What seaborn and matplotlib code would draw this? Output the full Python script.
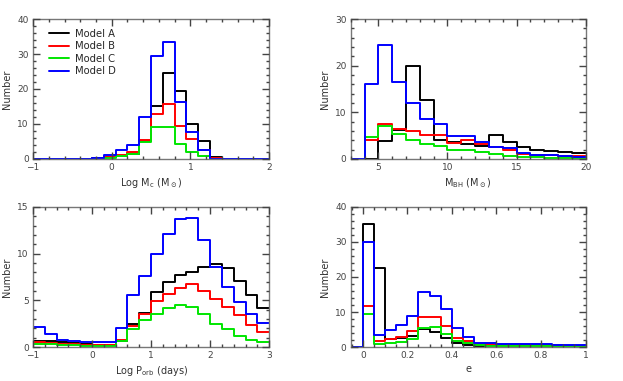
import numpy as np
import pandas as pd
import matplotlib
matplotlib.use("Agg")
import matplotlib.pyplot as plt
from matplotlib.ticker import MultipleLocator, FuncFormatter
import seaborn as sns

sns.set_style("ticks")
plt.rcParams['font.family'] = ['DejaVu Sans']

models = ["Model A", "Model B", "Model C", "Model D"]
colors = ["black", "red", "#00e600", "blue"]

# Log Mc, bins of 0.15 from -1 to 2
mc_edges = np.round(np.linspace(-1, 2, 21), 3)
mc_A = [0, 0, 0, 0, 0, 0.3, 0.5, 0.8, 1.3, 5.2, 15.0, 24.5, 19.5, 10.1, 5.2, 0.6, 0, 0, 0, 0]
mc_B = [0, 0, 0, 0, 0, 0, 0.5, 1.2, 2.0, 5.5, 12.7, 15.7, 9.5, 5.8, 2.6, 0.2, 0, 0, 0, 0]
mc_C = [0, 0, 0, 0, 0, 0, 0.3, 0.8, 1.5, 4.8, 9.2, 9.2, 4.3, 2.1, 0.7, 0, 0, 0, 0, 0]
mc_D = [0, 0, 0, 0, 0, 0.2, 1.0, 2.6, 4.1, 11.9, 29.5, 33.4, 16.4, 7.8, 2.6, 0, 0, 0, 0, 0]

# M_BH, bins of 1 from 3 to 20
bh_edges = np.arange(3, 21, 1).astype(float)
bh_A = [0, 0, 3.9, 6.3, 20.0, 12.7, 4.1, 3.6, 3.2, 2.8, 5.2, 3.6, 2.6, 2.0, 1.6, 1.5, 1.2]
bh_B = [0, 4.1, 7.4, 6.5, 6.0, 5.2, 5.1, 3.4, 4.0, 3.2, 2.5, 1.8, 1.0, 0.8, 0.8, 0.7, 0.6]
bh_C = [0, 4.7, 7.0, 5.3, 4.0, 3.1, 2.7, 1.8, 1.9, 1.5, 1.0, 0.6, 0.3, 0.3, 0.2, 0.2, 0.2]
bh_D = [0, 16.0, 24.5, 16.6, 11.9, 8.6, 7.5, 4.9, 5.0, 3.6, 2.6, 2.3, 1.2, 0.9, 0.8, 0.6, 0.5]

# Log Porb, bins of 0.2 from -1 to 3
po_edges = np.round(np.linspace(-1, 3, 21), 3)
po_A = [0.6, 0.6, 0.5, 0.4, 0.3, 0.25, 0.2, 0.6, 2.5, 3.6, 5.9, 7.0, 7.7, 8.0, 8.6, 8.9, 8.5, 7.1, 5.6, 4.2]
po_B = [0.5, 0.45, 0.35, 0.3, 0.25, 0.2, 0.2, 0.8, 2.3, 3.5, 4.9, 5.7, 6.3, 6.7, 6.0, 5.1, 4.3, 3.4, 2.4, 1.6]
po_C = [0.35, 0.3, 0.25, 0.2, 0.15, 0.1, 0.1, 0.65, 1.9, 2.9, 3.5, 4.2, 4.5, 4.3, 3.5, 2.5, 1.9, 1.2, 0.8, 0.5]
po_D = [2.1, 1.4, 0.8, 0.6, 0.5, 0.55, 0.5, 2.0, 5.6, 7.6, 10.0, 12.1, 13.7, 13.8, 11.5, 8.6, 6.4, 4.8, 3.5, 2.6]

# eccentricity, bins of 0.05 (first bin below 0 is empty)
e_edges = np.round(np.linspace(-0.05, 1.0, 22), 3)
e_A = [0, 35.2, 22.5, 2.2, 2.6, 3.2, 5.2, 4.2, 2.7, 1.3, 0.6, 0.4, 0.4, 0.4, 0.3, 0.3, 0.3, 0.3, 0.2, 0.3, 0.3]
e_B = [0, 11.7, 1.7, 2.3, 3.0, 4.5, 8.6, 8.7, 5.9, 2.6, 1.6, 0.9, 0.8, 0.7, 0.6, 0.6, 0.5, 0.5, 0.5, 0.4, 0.3]
e_C = [0, 9.3, 1.0, 1.1, 1.4, 2.3, 5.5, 5.6, 3.7, 1.6, 1.1, 0.5, 0.3, 0.3, 0.3, 0.2, 0.2, 0.2, 0.2, 0.1, 0.1]
e_D = [0, 30.0, 3.5, 4.8, 6.4, 8.8, 15.8, 14.5, 11.0, 5.4, 2.9, 1.2, 1.1, 1.0, 1.0, 0.9, 0.8, 0.8, 0.7, 0.6, 0.5]

panels = [
    (mc_edges, [mc_A, mc_B, mc_C, mc_D], r"Log M$_\mathregular{c}$ (M$_\odot$)",
     (-1, 2), (0, 40), 1, 0.2, 10, 2),
    (bh_edges, [bh_A, bh_B, bh_C, bh_D], r"M$_\mathregular{BH}$ (M$_\odot$)",
     (3, 20), (0, 30), 5, 1, 10, 2),
    (po_edges, [po_A, po_B, po_C, po_D], r"Log P$_\mathregular{orb}$ (days)",
     (-1, 3), (0, 15), 1, 0.2, 5, 1),
    (e_edges, [e_A, e_B, e_C, e_D], "e",
     (-0.054, 1), (0, 40), 0.2, 0.05, 10, 2),
]

rects = [
    [0.053, 0.583, 0.379, 0.367],
    [0.563, 0.583, 0.377, 0.367],
    [0.053, 0.089, 0.379, 0.368],
    [0.563, 0.089, 0.377, 0.368],
]

fig = plt.figure(figsize=(6.23, 3.81), dpi=100)
axes = []
for rect, (edges, series, xlabel, xlim, ylim, xmaj, xmin, ymaj, ymin) in zip(rects, panels):
    ax = fig.add_axes(rect)
    centers = (edges[:-1] + edges[1:]) / 2
    for vals, c in zip(series, colors):
        df = pd.DataFrame({"x": centers, "n": vals})
        sns.histplot(data=df, x="x", weights="n", bins=list(edges), element="step",
                     fill=False, color=c, linewidth=1.4, ax=ax)
    ax.set_xlim(*xlim)
    ax.set_ylim(*ylim)
    ax.xaxis.set_major_locator(MultipleLocator(xmaj))
    ax.xaxis.set_minor_locator(MultipleLocator(xmin))
    ax.yaxis.set_major_locator(MultipleLocator(ymaj))
    ax.yaxis.set_minor_locator(MultipleLocator(ymin))
    ax.xaxis.set_major_formatter(FuncFormatter(lambda v, p: ("%g" % round(v, 3)).replace("-", "\u2212")))
    ax.set_axisbelow(False)
    for axis in (ax.xaxis, ax.yaxis):
        axis.set_tick_params(which="both", direction="in", bottom=True, top=True,
                             left=True, right=True, width=1.0,
                             color="black", labelcolor="#444444", labelsize=6.5)
        axis.set_tick_params(which="major", length=5, pad=3)
        axis.set_tick_params(which="minor", length=2.5)
    for t in ax.xaxis.get_major_ticks() + ax.yaxis.get_major_ticks() + \
            ax.xaxis.get_minor_ticks() + ax.yaxis.get_minor_ticks():
        for ln in (t.tick1line, t.tick2line):
            ln.set_markeredgecolor("#444444")
            ln.set_color("#444444")
    for s in ax.spines.values():
        s.set_visible(True)
        s.set_color("#777777")
        s.set_linewidth(1.0)
    ax.set_xlabel(xlabel, fontsize=7, color="#333333", labelpad=3)
    ax.set_ylabel("Number", fontsize=7, color="#333333", labelpad=4)
    axes.append(ax)

ax0 = axes[0]
ax0.legend(ax0.lines, models, loc="upper left", bbox_to_anchor=(0.05, 0.96),
           frameon=False, fontsize=7.2, handlelength=2.0, handletextpad=0.6,
           labelspacing=0.25, borderaxespad=0)

fig.savefig("out.png", dpi=100)
